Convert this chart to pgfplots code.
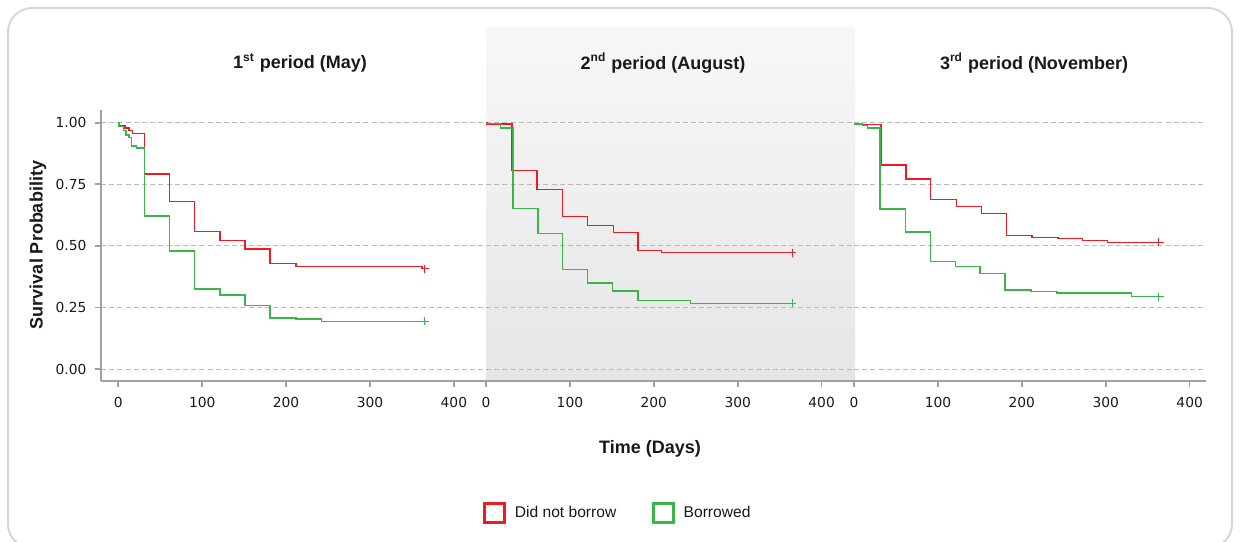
\documentclass[border=0pt]{standalone}
\usepackage{fontspec}
\setmainfont{Liberation Sans}
\newfontfamily\tickfont{DejaVu Sans}
\usepackage{pgfplots}
\pgfplotsset{compat=1.18}
\definecolor{kmred}{RGB}{237,28,36}
\definecolor{kmgreen}{RGB}{57,181,74}
\definecolor{axisgray}{RGB}{160,160,164}
\definecolor{gridgray}{RGB}{185,185,185}
\definecolor{framegray}{RGB}{214,214,214}
\definecolor{txt}{RGB}{25,25,25}

\pgfplotsset{
  kmbase/.style={
    scale only axis, height=135.5pt, ymin=-0.0487, ymax=1.0516,
    anchor=south west,
    axis x line*=bottom, axis y line*=left,
    axis line style={-, draw=axisgray, line width=1pt},
    xtick={0,100,200,300,400}, ytick={0,0.25,0.5,0.75,1},
    ymajorgrids,
    major grid style={gridgray, line width=0.5pt, dash pattern=on 2.5pt off 1.6pt},
    tick align=outside, major tick length=3pt,
    tick style={axisgray, line width=0.8pt},
    tick label style={font=\tickfont\fontsize{6.9}{8}\selectfont, text=txt},
    /pgf/number format/assume math mode=true,
    yticklabel={\pgfmathprintnumber[fixed,fixed zerofill,precision=2]{\tick}},
    xticklabel style={yshift=-1.5pt},
    yticklabel style={xshift=-0.8pt},
  },
  kminner/.style={
    y axis line style={draw=none}, ytick style={draw=none}, yticklabels={},
  },
  kmline/.style={const plot, line width=0.7pt, mark=none},
  kmcens/.style={only marks, mark=+, mark size=2pt, line width=0.7pt},
}

\begin{document}
\begin{tikzpicture}
\useasboundingbox (0,0) rectangle (620pt,270.5pt);
\draw[framegray, line width=1pt, rounded corners=12pt] (4pt,-3.5pt) rectangle (616pt,266.5pt);
\shade[top color=white!97!black, bottom color=white!90!black] (243pt,80pt) rectangle (427.5pt,256.5pt);

% Panel 1
\begin{axis}[kmbase, at={(50.5pt,80pt)}, width=192.5pt, xmin=-20.6, xmax=438.3]
\addplot[kmline, kmred] coordinates {(0,1.000) (1,0.987) (8,0.979) (13,0.969) (17,0.957) (31,0.791) (61,0.681) (91,0.558) (121,0.522) (151,0.488) (181,0.428) (212,0.415) (362,0.408) (369,0.408)};
\addplot[kmline, kmgreen] coordinates {(0,1.000) (1,0.984) (6,0.968) (9,0.950) (13,0.941) (16,0.906) (22,0.897) (31,0.622) (61,0.479) (91,0.325) (121,0.301) (151,0.257) (181,0.207) (212,0.203) (242,0.194) (369,0.194)};
\addplot[kmcens, kmred] coordinates {(365,0.408)};
\addplot[kmcens, kmgreen] coordinates {(365,0.194)};
\end{axis}

% Panel 2
\begin{axis}[kmbase, kminner, at={(243pt,80pt)}, width=184pt, xmin=0, xmax=438.6,
  legend columns=2,
  legend style={draw=none, fill=none, at={(-0.008,-0.487)}, anchor=west, inner sep=0pt,
    font=\fontsize{7.8}{9}\selectfont, text=txt,
    /tikz/every odd column/.append style={column sep=2.5pt},
    /tikz/every even column/.append style={column sep=16pt}},
  legend image code/.code={\draw[#1, line width=1.5pt, fill=none] (0pt,-4.7pt) rectangle (9.7pt,4.7pt);},
]
\addplot[kmline, kmred] coordinates {(0,1.000) (1,0.995) (31,0.807) (61,0.729) (91,0.618) (121,0.582) (152,0.555) (181,0.480) (209,0.472) (368,0.472)};
\addlegendentry{Did not borrow}
\addplot[kmline, kmgreen] coordinates {(0,0.997) (17,0.979) (32,0.652) (62,0.550) (91,0.405) (121,0.350) (151,0.317) (181,0.278) (244,0.266) (368,0.266)};
\addlegendentry{Borrowed}
\addplot[kmcens, kmred, forget plot] coordinates {(365,0.472)};
\addplot[kmcens, kmgreen, forget plot] coordinates {(365,0.266)};
\end{axis}

% Panel 3
\begin{axis}[kmbase, kminner, at={(427pt,80pt)}, width=176pt, xmin=0, xmax=419.5]
\addplot[kmline, kmred] coordinates {(0,0.993) (32,0.829) (62,0.771) (91,0.689) (122,0.659) (152,0.631) (182,0.542) (212,0.534) (243,0.529) (272,0.521) (302,0.514) (370,0.514)};
\addplot[kmline, kmgreen] coordinates {(0,0.995) (10,0.989) (16,0.979) (31,0.649) (61,0.556) (91,0.437) (121,0.415) (150,0.388) (180,0.321) (211,0.315) (242,0.308) (331,0.294) (369,0.294)};
\addplot[kmcens, kmred] coordinates {(363,0.514)};
\addplot[kmcens, kmgreen] coordinates {(363,0.294)};
\end{axis}

% Titles and axis labels
\node[font=\bfseries\fontsize{9}{11}\selectfont, text=txt] at (150pt,239pt) {1\textsuperscript{st} period (May)};
\node[font=\bfseries\fontsize{9}{11}\selectfont, text=txt] at (331.5pt,239pt) {2\textsuperscript{nd} period (August)};
\node[font=\bfseries\fontsize{9}{11}\selectfont, text=txt] at (517pt,239pt) {3\textsuperscript{rd} period (November)};
\node[font=\bfseries\fontsize{9}{11}\selectfont, text=txt, rotate=90] at (19pt,148pt) {Survival Probability};
\node[font=\bfseries\fontsize{9}{11}\selectfont, text=txt] at (325pt,46pt) {Time (Days)};
\end{tikzpicture}
\end{document}
